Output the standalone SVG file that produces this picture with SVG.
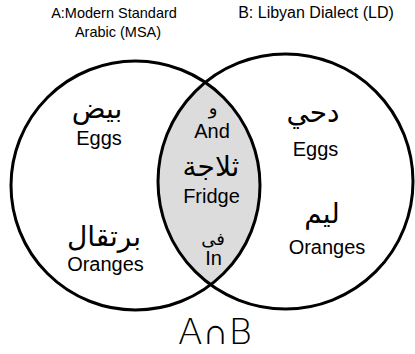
<svg xmlns="http://www.w3.org/2000/svg" width="415" height="354" viewBox="0 0 415 354">
<style>
.lbl{font-family:"Liberation Sans",Arial,sans-serif;fill:#000;text-anchor:middle}
.en{font-size:20px}
.hd{font-size:14.5px}
.ar{font-family:"DejaVu Sans","Noto Sans",sans-serif;font-size:28px;text-anchor:middle;fill:#000}
.ring{fill:none;stroke:#000;stroke-width:3}
</style>
<defs>
<clipPath id="clipA"><circle cx="135.5" cy="185.5" r="124.5"/></clipPath>
</defs>
<rect width="415" height="354" fill="#fff"/>
<g id="intersection">
<circle cx="285.5" cy="181.5" r="127.5" fill="#dcdcdc" clip-path="url(#clipA)"/>
</g>
<g id="connectors"></g>
<g id="setA">
<circle class="ring" cx="135.5" cy="185.5" r="124.5"/>
</g>
<g id="setB">
<circle class="ring" cx="285.5" cy="181.5" r="127.5"/>
</g>
<g id="headerA">
<text class="lbl hd" x="114" y="18">A:Modern Standard</text>
<text class="lbl hd" x="118" y="37">Arabic (MSA)</text>
</g>
<g id="headerB">
<text class="lbl" x="316" y="18" style="font-size:16px">B: Libyan Dialect (LD)</text>
</g>
<g id="a-eggs">
<text class="ar" x="97" y="118">بيض</text>
<text class="lbl en" x="99" y="145">Eggs</text>
</g>
<g id="a-oranges">
<text class="ar" x="104" y="246">برتقال</text>
<text class="lbl en" x="105.5" y="271">Oranges</text>
</g>
<g id="ab-and">
<text class="ar" x="213" y="114" style="font-size:18px">و</text>
<text class="lbl en" x="212" y="138">And</text>
</g>
<g id="ab-fridge">
<text class="ar" x="211" y="176">ثلاجة</text>
<text class="lbl en" x="211.5" y="203">Fridge</text>
</g>
<g id="ab-in">
<text class="ar" x="213" y="245" style="font-size:18px">فى</text>
<text class="lbl en" x="213.5" y="265">In</text>
</g>
<g id="b-eggs">
<text class="ar" x="313" y="122">دحي</text>
<text class="lbl en" x="315.5" y="156">Eggs</text>
</g>
<g id="b-oranges">
<text class="ar" x="322" y="223">ليم</text>
<text class="lbl en" x="327" y="254">Oranges</text>
</g>
<g id="caption">
<text x="215" y="344" style="font-family:'DejaVu Sans',sans-serif;font-weight:200;font-size:36px;text-anchor:middle;fill:#000">A∩B</text>
</g>
</svg>
